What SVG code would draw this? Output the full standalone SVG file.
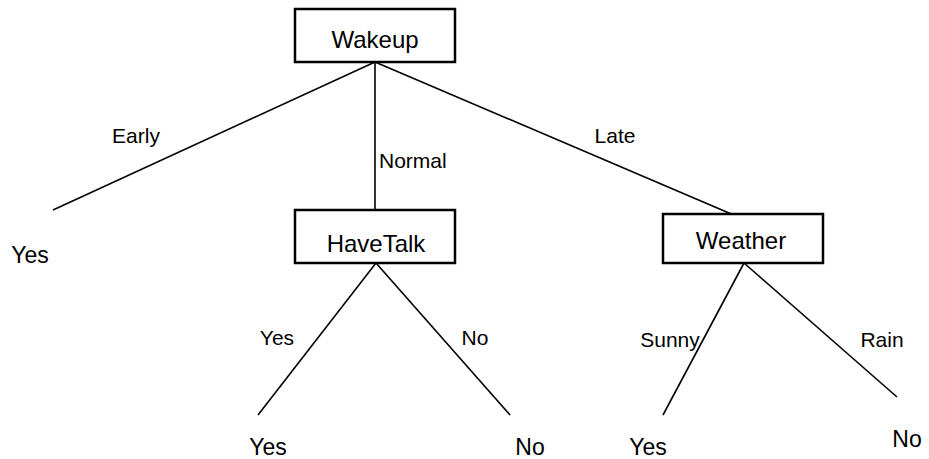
<svg xmlns="http://www.w3.org/2000/svg" width="929" height="459" viewBox="0 0 929 459">
<style>
.box{fill:#fff;stroke:#000;stroke-width:2.5}
.edge{stroke:#000;stroke-width:1.6;fill:none}
text{font-family:"Liberation Sans",Arial,sans-serif;fill:#000}
.nt{font-size:24px;text-anchor:middle}
.lb{font-size:21px;text-anchor:middle}
.lf{font-size:23px;text-anchor:middle}
</style>
<rect width="929" height="459" fill="#fff"/>
<g id="connectors">
<line class="edge" x1="375" y1="62" x2="53" y2="210"/>
<line class="edge" x1="375" y1="62" x2="375" y2="210"/>
<line class="edge" x1="375" y1="62" x2="736" y2="216"/>
<line class="edge" x1="376" y1="263" x2="258" y2="415"/>
<line class="edge" x1="376" y1="263" x2="510" y2="415"/>
<line class="edge" x1="744" y1="263" x2="663" y2="415"/>
<line class="edge" x1="744" y1="263" x2="897" y2="397"/>
<text class="lb" x="136" y="143">Early</text>
<text class="lb" x="379" y="168" style="text-anchor:start">Normal</text>
<text class="lb" x="615" y="143">Late</text>
<text class="lb" x="277" y="345">Yes</text>
<text class="lb" x="475" y="345">No</text>
<text class="lb" x="670" y="347">Sunny</text>
<text class="lb" x="882" y="347">Rain</text>
</g>
<g id="wakeup">
<rect class="box" x="295" y="9" width="160" height="53"/>
<text class="nt" x="375" y="48">Wakeup</text>
</g>
<g id="havetalk">
<rect class="box" x="295" y="210" width="160" height="53"/>
<text class="nt" x="376" y="252">HaveTalk</text>
</g>
<g id="weather">
<rect class="box" x="663" y="214" width="160" height="49"/>
<text class="nt" x="741" y="249">Weather</text>
</g>
<g id="leaf-early-yes"><text class="lf" x="30" y="263">Yes</text></g>
<g id="leaf-talk-yes"><text class="lf" x="268" y="455">Yes</text></g>
<g id="leaf-talk-no"><text class="lf" x="530" y="455">No</text></g>
<g id="leaf-sunny-yes"><text class="lf" x="648" y="455">Yes</text></g>
<g id="leaf-rain-no"><text class="lf" x="907" y="447">No</text></g>
</svg>
